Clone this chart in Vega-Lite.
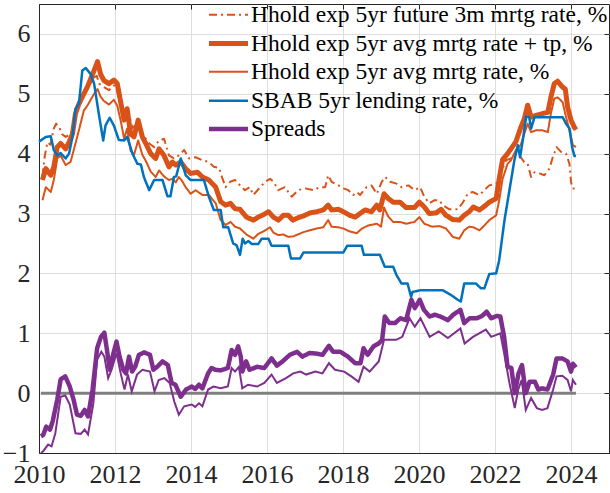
{
  "$schema": "https://vega.github.io/schema/vega-lite/v6.json",
  "width": 570,
  "height": 449,
  "autosize": "none",
  "padding": {"left": 39, "top": 4, "right": 1, "bottom": 40},
  "background": "white",
  "config": {
    "view": {"stroke": "#262626", "strokeWidth": 1},
    "axis": {
      "labelFont": "Liberation Serif",
      "labelFontSize": 26,
      "labelColor": "#262626",
      "domainColor": "#262626",
      "tickColor": "#262626",
      "gridColor": "#dedede",
      "gridWidth": 1,
      "title": null
    }
  },
  "datasets": {
    "zero": [{"t": 2010.05, "v": 0}, {"t": 2024.13, "v": 0}],
    "spread2": [
      {"t":2010.05,"v":-1.0},{"t":2010.11,"v":-0.97},{"t":2010.24,"v":-0.86},{"t":2010.33,"v":-0.89},{"t":2010.43,"v":-0.67},{"t":2010.57,"v":-0.06},{"t":2010.69,"v":-0.04},{"t":2010.81,"v":-0.19},{"t":2010.96,"v":-0.67},{"t":2011.1,"v":-0.68},{"t":2011.2,"v":-0.61},{"t":2011.29,"v":-0.69},{"t":2011.43,"v":-0.17},{"t":2011.53,"v":0.56},{"t":2011.64,"v":0.69},{"t":2011.72,"v":0.61},{"t":2011.82,"v":0.25},{"t":2011.91,"v":0.39},{"t":2012.04,"v":0.67},{"t":2012.15,"v":0.33},{"t":2012.25,"v":0.06},{"t":2012.34,"v":0.31},{"t":2012.44,"v":0.03},{"t":2012.58,"v":0.31},{"t":2012.72,"v":0.39},{"t":2012.92,"v":0.36},{"t":2013.04,"v":0.03},{"t":2013.15,"v":0.22},{"t":2013.3,"v":0.25},{"t":2013.44,"v":0.17},{"t":2013.56,"v":-0.14},{"t":2013.68,"v":-0.36},{"t":2013.82,"v":-0.22},{"t":2014.02,"v":-0.19},{"t":2014.11,"v":-0.23},{"t":2014.21,"v":-0.17},{"t":2014.3,"v":-0.22},{"t":2014.45,"v":0.06},{"t":2014.59,"v":0.11},{"t":2014.78,"v":0.08},{"t":2014.97,"v":0.11},{"t":2015.07,"v":0.42},{"t":2015.16,"v":0.36},{"t":2015.26,"v":0.44},{"t":2015.35,"v":0.08},{"t":2015.5,"v":0.14},{"t":2015.74,"v":0.11},{"t":2015.93,"v":0.17},{"t":2016.12,"v":0.31},{"t":2016.26,"v":0.17},{"t":2016.5,"v":0.25},{"t":2016.69,"v":0.33},{"t":2016.88,"v":0.36},{"t":2017.03,"v":0.31},{"t":2017.27,"v":0.36},{"t":2017.46,"v":0.33},{"t":2017.63,"v":0.5},{"t":2017.79,"v":0.39},{"t":2018.03,"v":0.36},{"t":2018.22,"v":0.28},{"t":2018.41,"v":0.19},{"t":2018.54,"v":0.44},{"t":2018.7,"v":0.36},{"t":2018.94,"v":0.53},{"t":2019.08,"v":0.89},{"t":2019.22,"v":0.89},{"t":2019.4,"v":0.89},{"t":2019.56,"v":0.94},{"t":2019.75,"v":1.25},{"t":2019.89,"v":1.11},{"t":2020.04,"v":1.25},{"t":2020.28,"v":0.94},{"t":2020.52,"v":1.03},{"t":2020.76,"v":0.92},{"t":2021.09,"v":1.08},{"t":2021.2,"v":0.83},{"t":2021.42,"v":0.94},{"t":2021.76,"v":1.06},{"t":2021.9,"v":0.94},{"t":2022.14,"v":1.0},{"t":2022.24,"v":0.67},{"t":2022.38,"v":0.17},{"t":2022.52,"v":-0.25},{"t":2022.61,"v":0.06},{"t":2022.7,"v":0.22},{"t":2022.81,"v":-0.28},{"t":2022.95,"v":-0.08},{"t":2023.1,"v":-0.25},{"t":2023.24,"v":-0.28},{"t":2023.38,"v":-0.25},{"t":2023.53,"v":0.06},{"t":2023.62,"v":0.28},{"t":2023.77,"v":0.29},{"t":2023.91,"v":0.22},{"t":2024.0,"v":0.03},{"t":2024.05,"v":0.22},{"t":2024.13,"v":0.14}
    ],
    "rates": [
      {"s":"a","t":2010.09,"v":3.62},{"s":"a","t":2010.15,"v":3.95},{"s":"a","t":2010.22,"v":4.19},{"s":"a","t":2010.3,"v":4.15},{"s":"a","t":2010.39,"v":4.42},{"s":"a","t":2010.45,"v":4.5},{"s":"a","t":2010.53,"v":4.45},{"s":"a","t":2010.6,"v":4.33},{"s":"a","t":2010.7,"v":4.28},{"s":"a","t":2010.79,"v":4.31},{"s":"a","t":2010.88,"v":4.39},{"s":"a","t":2010.96,"v":4.67},{"s":"a","t":2011.03,"v":4.8},{"s":"a","t":2011.1,"v":4.92},{"s":"a","t":2011.23,"v":5.06},{"s":"a","t":2011.36,"v":5.17},{"s":"a","t":2011.45,"v":5.28},{"s":"a","t":2011.52,"v":5.3},{"s":"a","t":2011.58,"v":5.17},{"s":"a","t":2011.71,"v":5.11},{"s":"a","t":2011.84,"v":5.06},{"s":"a","t":2011.97,"v":5.14},{"s":"a","t":2012.04,"v":5.1},{"s":"a","t":2012.1,"v":4.92},{"s":"a","t":2012.24,"v":4.64},{"s":"a","t":2012.32,"v":4.78},{"s":"a","t":2012.46,"v":4.42},{"s":"a","t":2012.59,"v":4.53},{"s":"a","t":2012.72,"v":4.33},{"s":"a","t":2012.9,"v":4.17},{"s":"a","t":2013.03,"v":4.11},{"s":"a","t":2013.16,"v":4.22},{"s":"a","t":2013.29,"v":4.25},{"s":"a","t":2013.42,"v":3.97},{"s":"a","t":2013.55,"v":3.92},{"s":"a","t":2013.68,"v":3.97},{"s":"a","t":2013.82,"v":4.06},{"s":"a","t":2013.95,"v":3.92},{"s":"a","t":2014.12,"v":3.94},{"s":"a","t":2014.3,"v":3.89},{"s":"a","t":2014.47,"v":3.86},{"s":"a","t":2014.6,"v":3.78},{"s":"a","t":2014.74,"v":3.76},{"s":"a","t":2014.82,"v":3.6},{"s":"a","t":2014.91,"v":3.44},{"s":"a","t":2015.03,"v":3.53},{"s":"a","t":2015.16,"v":3.56},{"s":"a","t":2015.29,"v":3.47},{"s":"a","t":2015.42,"v":3.39},{"s":"a","t":2015.55,"v":3.44},{"s":"a","t":2015.64,"v":3.31},{"s":"a","t":2015.82,"v":3.44},{"s":"a","t":2015.95,"v":3.53},{"s":"a","t":2016.08,"v":3.58},{"s":"a","t":2016.17,"v":3.53},{"s":"a","t":2016.3,"v":3.39},{"s":"a","t":2016.47,"v":3.44},{"s":"a","t":2016.65,"v":3.28},{"s":"a","t":2016.82,"v":3.39},{"s":"a","t":2017.0,"v":3.42},{"s":"a","t":2017.22,"v":3.39},{"s":"a","t":2017.39,"v":3.44},{"s":"a","t":2017.53,"v":3.44},{"s":"a","t":2017.61,"v":3.64},{"s":"a","t":2017.7,"v":3.53},{"s":"a","t":2017.88,"v":3.47},{"s":"a","t":2018.01,"v":3.42},{"s":"a","t":2018.14,"v":3.39},{"s":"a","t":2018.27,"v":3.31},{"s":"a","t":2018.36,"v":3.36},{"s":"a","t":2018.45,"v":3.31},{"s":"a","t":2018.62,"v":3.44},{"s":"a","t":2018.75,"v":3.47},{"s":"a","t":2018.89,"v":3.33},{"s":"a","t":2019.02,"v":3.53},{"s":"a","t":2019.11,"v":3.61},{"s":"a","t":2019.24,"v":3.53},{"s":"a","t":2019.41,"v":3.5},{"s":"a","t":2019.54,"v":3.44},{"s":"a","t":2019.72,"v":3.47},{"s":"a","t":2019.89,"v":3.39},{"s":"a","t":2020.03,"v":3.44},{"s":"a","t":2020.14,"v":3.28},{"s":"a","t":2020.27,"v":3.17},{"s":"a","t":2020.4,"v":3.22},{"s":"a","t":2020.54,"v":3.22},{"s":"a","t":2020.62,"v":3.14},{"s":"a","t":2020.8,"v":3.07},{"s":"a","t":2021.02,"v":3.07},{"s":"a","t":2021.15,"v":3.18},{"s":"a","t":2021.28,"v":3.33},{"s":"a","t":2021.41,"v":3.36},{"s":"a","t":2021.59,"v":3.31},{"s":"a","t":2021.72,"v":3.39},{"s":"a","t":2021.85,"v":3.47},{"s":"a","t":2022.03,"v":3.5},{"s":"a","t":2022.16,"v":3.69},{"s":"a","t":2022.29,"v":3.89},{"s":"a","t":2022.42,"v":3.92},{"s":"a","t":2022.55,"v":4.0},{"s":"a","t":2022.68,"v":3.94},{"s":"a","t":2022.77,"v":3.86},{"s":"a","t":2022.86,"v":3.83},{"s":"a","t":2022.95,"v":3.61},{"s":"a","t":2023.04,"v":3.69},{"s":"a","t":2023.17,"v":3.67},{"s":"a","t":2023.3,"v":3.64},{"s":"a","t":2023.43,"v":3.75},{"s":"a","t":2023.52,"v":3.94},{"s":"a","t":2023.62,"v":4.11},{"s":"a","t":2023.74,"v":4.03},{"s":"a","t":2023.87,"v":4.0},{"s":"a","t":2023.96,"v":3.83},{"s":"a","t":2024.0,"v":3.53},{"s":"a","t":2024.04,"v":3.42},{"s":"a","t":2024.13,"v":3.42},
      {"s":"b","t":2010.09,"v":3.56},{"s":"b","t":2010.18,"v":3.75},{"s":"b","t":2010.31,"v":3.64},{"s":"b","t":2010.39,"v":3.78},{"s":"b","t":2010.48,"v":4.11},{"s":"b","t":2010.57,"v":4.17},{"s":"b","t":2010.7,"v":4.08},{"s":"b","t":2010.79,"v":4.19},{"s":"b","t":2010.88,"v":4.33},{"s":"b","t":2010.96,"v":4.67},{"s":"b","t":2011.05,"v":4.83},{"s":"b","t":2011.18,"v":5.0},{"s":"b","t":2011.27,"v":5.11},{"s":"b","t":2011.36,"v":5.25},{"s":"b","t":2011.45,"v":5.39},{"s":"b","t":2011.54,"v":5.54},{"s":"b","t":2011.62,"v":5.33},{"s":"b","t":2011.71,"v":5.22},{"s":"b","t":2011.84,"v":5.17},{"s":"b","t":2011.97,"v":5.23},{"s":"b","t":2012.06,"v":5.17},{"s":"b","t":2012.15,"v":4.86},{"s":"b","t":2012.24,"v":4.56},{"s":"b","t":2012.32,"v":4.75},{"s":"b","t":2012.41,"v":4.33},{"s":"b","t":2012.5,"v":4.28},{"s":"b","t":2012.61,"v":4.56},{"s":"b","t":2012.72,"v":4.28},{"s":"b","t":2012.81,"v":4.17},{"s":"b","t":2012.94,"v":4.0},{"s":"b","t":2013.07,"v":3.92},{"s":"b","t":2013.16,"v":4.08},{"s":"b","t":2013.29,"v":3.97},{"s":"b","t":2013.42,"v":3.78},{"s":"b","t":2013.51,"v":3.86},{"s":"b","t":2013.6,"v":3.81},{"s":"b","t":2013.73,"v":3.86},{"s":"b","t":2013.86,"v":3.75},{"s":"b","t":2013.99,"v":3.67},{"s":"b","t":2014.17,"v":3.69},{"s":"b","t":2014.3,"v":3.61},{"s":"b","t":2014.47,"v":3.56},{"s":"b","t":2014.65,"v":3.44},{"s":"b","t":2014.78,"v":3.2},{"s":"b","t":2014.91,"v":3.14},{"s":"b","t":2015.04,"v":3.17},{"s":"b","t":2015.16,"v":3.08},{"s":"b","t":2015.29,"v":3.07},{"s":"b","t":2015.46,"v":2.94},{"s":"b","t":2015.64,"v":2.89},{"s":"b","t":2015.77,"v":2.94},{"s":"b","t":2015.9,"v":2.98},{"s":"b","t":2016.04,"v":3.03},{"s":"b","t":2016.17,"v":2.94},{"s":"b","t":2016.3,"v":2.89},{"s":"b","t":2016.43,"v":2.97},{"s":"b","t":2016.56,"v":2.97},{"s":"b","t":2016.68,"v":2.89},{"s":"b","t":2016.82,"v":2.93},{"s":"b","t":2017.0,"v":2.97},{"s":"b","t":2017.13,"v":3.01},{"s":"b","t":2017.31,"v":3.03},{"s":"b","t":2017.48,"v":3.06},{"s":"b","t":2017.61,"v":3.14},{"s":"b","t":2017.7,"v":3.06},{"s":"b","t":2017.88,"v":3.07},{"s":"b","t":2018.01,"v":3.03},{"s":"b","t":2018.18,"v":2.97},{"s":"b","t":2018.32,"v":2.94},{"s":"b","t":2018.45,"v":3.0},{"s":"b","t":2018.58,"v":3.06},{"s":"b","t":2018.75,"v":3.03},{"s":"b","t":2018.89,"v":3.14},{"s":"b","t":2018.97,"v":3.06},{"s":"b","t":2019.08,"v":3.33},{"s":"b","t":2019.19,"v":3.25},{"s":"b","t":2019.32,"v":3.19},{"s":"b","t":2019.5,"v":3.19},{"s":"b","t":2019.66,"v":3.1},{"s":"b","t":2019.88,"v":3.1},{"s":"b","t":2020.01,"v":3.19},{"s":"b","t":2020.14,"v":3.11},{"s":"b","t":2020.27,"v":3.0},{"s":"b","t":2020.45,"v":3.01},{"s":"b","t":2020.58,"v":3.07},{"s":"b","t":2020.71,"v":2.97},{"s":"b","t":2020.89,"v":2.9},{"s":"b","t":2021.06,"v":2.89},{"s":"b","t":2021.19,"v":2.97},{"s":"b","t":2021.32,"v":3.03},{"s":"b","t":2021.43,"v":3.11},{"s":"b","t":2021.59,"v":3.06},{"s":"b","t":2021.72,"v":3.12},{"s":"b","t":2021.85,"v":3.19},{"s":"b","t":2022.03,"v":3.25},{"s":"b","t":2022.11,"v":3.58},{"s":"b","t":2022.2,"v":3.9},{"s":"b","t":2022.33,"v":4.0},{"s":"b","t":2022.42,"v":4.08},{"s":"b","t":2022.55,"v":4.2},{"s":"b","t":2022.68,"v":4.44},{"s":"b","t":2022.77,"v":4.58},{"s":"b","t":2022.86,"v":4.81},{"s":"b","t":2022.95,"v":4.61},{"s":"b","t":2023.08,"v":4.64},{"s":"b","t":2023.25,"v":4.67},{"s":"b","t":2023.39,"v":4.69},{"s":"b","t":2023.47,"v":4.94},{"s":"b","t":2023.56,"v":5.17},{"s":"b","t":2023.65,"v":5.21},{"s":"b","t":2023.78,"v":5.11},{"s":"b","t":2023.85,"v":5.08},{"s":"b","t":2023.91,"v":4.78},{"s":"b","t":2024.0,"v":4.56},{"s":"b","t":2024.09,"v":4.44},{"s":"b","t":2024.13,"v":4.4},
      {"s":"c","t":2010.09,"v":3.22},{"s":"c","t":2010.18,"v":3.44},{"s":"c","t":2010.31,"v":3.36},{"s":"c","t":2010.39,"v":3.56},{"s":"c","t":2010.48,"v":3.92},{"s":"c","t":2010.57,"v":3.97},{"s":"c","t":2010.7,"v":3.81},{"s":"c","t":2010.83,"v":3.86},{"s":"c","t":2010.96,"v":4.17},{"s":"c","t":2011.05,"v":4.39},{"s":"c","t":2011.18,"v":4.72},{"s":"c","t":2011.27,"v":4.8},{"s":"c","t":2011.36,"v":4.9},{"s":"c","t":2011.45,"v":5.0},{"s":"c","t":2011.54,"v":5.08},{"s":"c","t":2011.62,"v":4.95},{"s":"c","t":2011.71,"v":4.88},{"s":"c","t":2011.84,"v":4.82},{"s":"c","t":2011.97,"v":4.9},{"s":"c","t":2012.06,"v":4.8},{"s":"c","t":2012.15,"v":4.55},{"s":"c","t":2012.24,"v":4.25},{"s":"c","t":2012.32,"v":4.42},{"s":"c","t":2012.41,"v":4.05},{"s":"c","t":2012.5,"v":3.98},{"s":"c","t":2012.61,"v":4.22},{"s":"c","t":2012.72,"v":3.98},{"s":"c","t":2012.81,"v":3.88},{"s":"c","t":2012.94,"v":3.7},{"s":"c","t":2013.07,"v":3.61},{"s":"c","t":2013.16,"v":3.72},{"s":"c","t":2013.29,"v":3.62},{"s":"c","t":2013.42,"v":3.56},{"s":"c","t":2013.51,"v":3.58},{"s":"c","t":2013.6,"v":3.52},{"s":"c","t":2013.68,"v":3.61},{"s":"c","t":2013.75,"v":3.56},{"s":"c","t":2013.86,"v":3.44},{"s":"c","t":2013.99,"v":3.33},{"s":"c","t":2014.12,"v":3.39},{"s":"c","t":2014.3,"v":3.31},{"s":"c","t":2014.47,"v":3.31},{"s":"c","t":2014.65,"v":3.17},{"s":"c","t":2014.78,"v":2.89},{"s":"c","t":2014.91,"v":2.81},{"s":"c","t":2015.04,"v":2.86},{"s":"c","t":2015.16,"v":2.78},{"s":"c","t":2015.29,"v":2.75},{"s":"c","t":2015.46,"v":2.65},{"s":"c","t":2015.64,"v":2.58},{"s":"c","t":2015.77,"v":2.66},{"s":"c","t":2015.9,"v":2.7},{"s":"c","t":2016.08,"v":2.77},{"s":"c","t":2016.17,"v":2.68},{"s":"c","t":2016.3,"v":2.64},{"s":"c","t":2016.43,"v":2.65},{"s":"c","t":2016.56,"v":2.61},{"s":"c","t":2016.7,"v":2.62},{"s":"c","t":2016.96,"v":2.69},{"s":"c","t":2017.13,"v":2.72},{"s":"c","t":2017.31,"v":2.75},{"s":"c","t":2017.48,"v":2.77},{"s":"c","t":2017.61,"v":2.89},{"s":"c","t":2017.7,"v":2.78},{"s":"c","t":2017.88,"v":2.77},{"s":"c","t":2018.01,"v":2.75},{"s":"c","t":2018.18,"v":2.7},{"s":"c","t":2018.36,"v":2.67},{"s":"c","t":2018.5,"v":2.75},{"s":"c","t":2018.66,"v":2.8},{"s":"c","t":2018.89,"v":2.83},{"s":"c","t":2019.0,"v":2.78},{"s":"c","t":2019.08,"v":3.1},{"s":"c","t":2019.19,"v":2.95},{"s":"c","t":2019.32,"v":2.86},{"s":"c","t":2019.5,"v":2.86},{"s":"c","t":2019.66,"v":2.83},{"s":"c","t":2019.88,"v":2.86},{"s":"c","t":2020.01,"v":2.94},{"s":"c","t":2020.14,"v":2.83},{"s":"c","t":2020.35,"v":2.78},{"s":"c","t":2020.54,"v":2.79},{"s":"c","t":2020.71,"v":2.75},{"s":"c","t":2020.89,"v":2.61},{"s":"c","t":2021.06,"v":2.58},{"s":"c","t":2021.19,"v":2.72},{"s":"c","t":2021.32,"v":2.78},{"s":"c","t":2021.43,"v":2.77},{"s":"c","t":2021.59,"v":2.72},{"s":"c","t":2021.72,"v":2.8},{"s":"c","t":2021.85,"v":2.89},{"s":"c","t":2022.03,"v":2.97},{"s":"c","t":2022.11,"v":3.22},{"s":"c","t":2022.2,"v":3.58},{"s":"c","t":2022.33,"v":3.83},{"s":"c","t":2022.42,"v":3.89},{"s":"c","t":2022.55,"v":4.06},{"s":"c","t":2022.68,"v":4.15},{"s":"c","t":2022.77,"v":4.33},{"s":"c","t":2022.86,"v":4.5},{"s":"c","t":2022.95,"v":4.36},{"s":"c","t":2023.08,"v":4.39},{"s":"c","t":2023.25,"v":4.39},{"s":"c","t":2023.39,"v":4.36},{"s":"c","t":2023.47,"v":4.67},{"s":"c","t":2023.56,"v":4.92},{"s":"c","t":2023.65,"v":4.94},{"s":"c","t":2023.78,"v":4.86},{"s":"c","t":2023.87,"v":4.61},{"s":"c","t":2023.96,"v":4.39},{"s":"c","t":2024.05,"v":4.14},{"s":"c","t":2024.13,"v":4.11},
      {"s":"d","t":2010.0,"v":4.2},{"s":"d","t":2010.18,"v":4.28},{"s":"d","t":2010.31,"v":4.29},{"s":"d","t":2010.39,"v":4.06},{"s":"d","t":2010.48,"v":3.97},{"s":"d","t":2010.57,"v":4.01},{"s":"d","t":2010.7,"v":3.92},{"s":"d","t":2010.79,"v":4.0},{"s":"d","t":2010.88,"v":4.28},{"s":"d","t":2010.96,"v":4.75},{"s":"d","t":2011.05,"v":4.83},{"s":"d","t":2011.14,"v":5.39},{"s":"d","t":2011.23,"v":5.43},{"s":"d","t":2011.36,"v":5.33},{"s":"d","t":2011.45,"v":5.17},{"s":"d","t":2011.58,"v":4.64},{"s":"d","t":2011.69,"v":4.22},{"s":"d","t":2011.75,"v":4.47},{"s":"d","t":2011.86,"v":4.6},{"s":"d","t":2011.97,"v":4.47},{"s":"d","t":2012.1,"v":4.23},{"s":"d","t":2012.24,"v":4.22},{"s":"d","t":2012.32,"v":4.28},{"s":"d","t":2012.46,"v":4.0},{"s":"d","t":2012.59,"v":3.83},{"s":"d","t":2012.68,"v":3.82},{"s":"d","t":2012.76,"v":3.61},{"s":"d","t":2012.9,"v":3.39},{"s":"d","t":2013.03,"v":3.56},{"s":"d","t":2013.25,"v":3.56},{"s":"d","t":2013.38,"v":3.29},{"s":"d","t":2013.46,"v":3.29},{"s":"d","t":2013.55,"v":3.61},{"s":"d","t":2013.61,"v":3.62},{"s":"d","t":2013.73,"v":3.92},{"s":"d","t":2013.86,"v":3.64},{"s":"d","t":2013.99,"v":3.56},{"s":"d","t":2014.34,"v":3.56},{"s":"d","t":2014.47,"v":3.28},{"s":"d","t":2014.6,"v":3.06},{"s":"d","t":2014.78,"v":3.06},{"s":"d","t":2014.85,"v":2.77},{"s":"d","t":2014.98,"v":2.77},{"s":"d","t":2015.11,"v":2.5},{"s":"d","t":2015.2,"v":2.47},{"s":"d","t":2015.29,"v":2.31},{"s":"d","t":2015.36,"v":2.58},{"s":"d","t":2015.42,"v":2.5},{"s":"d","t":2015.51,"v":2.54},{"s":"d","t":2015.6,"v":2.49},{"s":"d","t":2015.77,"v":2.49},{"s":"d","t":2015.86,"v":2.58},{"s":"d","t":2016.04,"v":2.58},{"s":"d","t":2016.12,"v":2.46},{"s":"d","t":2016.56,"v":2.46},{"s":"d","t":2016.63,"v":2.25},{"s":"d","t":2016.87,"v":2.25},{"s":"d","t":2016.96,"v":2.35},{"s":"d","t":2018.01,"v":2.35},{"s":"d","t":2018.11,"v":2.46},{"s":"d","t":2018.49,"v":2.46},{"s":"d","t":2018.55,"v":2.31},{"s":"d","t":2018.97,"v":2.31},{"s":"d","t":2019.1,"v":2.11},{"s":"d","t":2019.32,"v":2.11},{"s":"d","t":2019.41,"v":1.97},{"s":"d","t":2019.54,"v":1.83},{"s":"d","t":2019.7,"v":1.83},{"s":"d","t":2019.79,"v":1.61},{"s":"d","t":2019.83,"v":1.69},{"s":"d","t":2020.05,"v":1.72},{"s":"d","t":2020.62,"v":1.72},{"s":"d","t":2020.84,"v":1.64},{"s":"d","t":2021.02,"v":1.56},{"s":"d","t":2021.1,"v":1.53},{"s":"d","t":2021.19,"v":1.83},{"s":"d","t":2021.5,"v":1.83},{"s":"d","t":2021.63,"v":1.75},{"s":"d","t":2021.72,"v":1.75},{"s":"d","t":2021.85,"v":1.99},{"s":"d","t":2022.03,"v":2.0},{"s":"d","t":2022.11,"v":2.22},{"s":"d","t":2022.25,"v":2.89},{"s":"d","t":2022.38,"v":3.39},{"s":"d","t":2022.51,"v":3.89},{"s":"d","t":2022.6,"v":4.14},{"s":"d","t":2022.66,"v":3.94},{"s":"d","t":2022.73,"v":4.22},{"s":"d","t":2022.82,"v":4.62},{"s":"d","t":2022.9,"v":4.61},{"s":"d","t":2022.95,"v":4.42},{"s":"d","t":2023.04,"v":4.61},{"s":"d","t":2023.78,"v":4.61},{"s":"d","t":2023.87,"v":4.5},{"s":"d","t":2023.96,"v":4.42},{"s":"d","t":2024.03,"v":4.11},{"s":"d","t":2024.09,"v":3.96},{"s":"d","t":2024.13,"v":3.96},
      {"s":"e","t":2010.05,"v":-0.72},{"s":"e","t":2010.11,"v":-0.7},{"s":"e","t":2010.19,"v":-0.56},{"s":"e","t":2010.29,"v":-0.61},{"s":"e","t":2010.36,"v":-0.47},{"s":"e","t":2010.48,"v":-0.11},{"s":"e","t":2010.57,"v":0.23},{"s":"e","t":2010.69,"v":0.28},{"s":"e","t":2010.81,"v":0.11},{"s":"e","t":2010.91,"v":-0.11},{"s":"e","t":2011.0,"v":-0.36},{"s":"e","t":2011.1,"v":-0.38},{"s":"e","t":2011.2,"v":-0.28},{"s":"e","t":2011.29,"v":-0.39},{"s":"e","t":2011.41,"v":0.06},{"s":"e","t":2011.53,"v":0.75},{"s":"e","t":2011.63,"v":0.94},{"s":"e","t":2011.72,"v":1.01},{"s":"e","t":2011.8,"v":0.67},{"s":"e","t":2011.86,"v":0.39},{"s":"e","t":2011.96,"v":0.67},{"s":"e","t":2012.04,"v":0.86},{"s":"e","t":2012.12,"v":0.61},{"s":"e","t":2012.22,"v":0.39},{"s":"e","t":2012.29,"v":0.33},{"s":"e","t":2012.37,"v":0.61},{"s":"e","t":2012.45,"v":0.36},{"s":"e","t":2012.53,"v":0.44},{"s":"e","t":2012.63,"v":0.64},{"s":"e","t":2012.77,"v":0.68},{"s":"e","t":2012.92,"v":0.64},{"s":"e","t":2013.01,"v":0.39},{"s":"e","t":2013.11,"v":0.44},{"s":"e","t":2013.25,"v":0.53},{"s":"e","t":2013.39,"v":0.47},{"s":"e","t":2013.49,"v":0.17},{"s":"e","t":2013.59,"v":0.14},{"s":"e","t":2013.73,"v":-0.06},{"s":"e","t":2013.87,"v":0.06},{"s":"e","t":2014.02,"v":0.11},{"s":"e","t":2014.11,"v":0.07},{"s":"e","t":2014.21,"v":0.14},{"s":"e","t":2014.3,"v":0.08},{"s":"e","t":2014.45,"v":0.33},{"s":"e","t":2014.54,"v":0.42},{"s":"e","t":2014.64,"v":0.39},{"s":"e","t":2014.78,"v":0.38},{"s":"e","t":2014.97,"v":0.42},{"s":"e","t":2015.07,"v":0.72},{"s":"e","t":2015.16,"v":0.64},{"s":"e","t":2015.24,"v":0.78},{"s":"e","t":2015.31,"v":0.61},{"s":"e","t":2015.35,"v":0.36},{"s":"e","t":2015.45,"v":0.53},{"s":"e","t":2015.54,"v":0.39},{"s":"e","t":2015.74,"v":0.44},{"s":"e","t":2015.93,"v":0.42},{"s":"e","t":2016.12,"v":0.58},{"s":"e","t":2016.26,"v":0.46},{"s":"e","t":2016.41,"v":0.53},{"s":"e","t":2016.6,"v":0.64},{"s":"e","t":2016.79,"v":0.69},{"s":"e","t":2016.93,"v":0.61},{"s":"e","t":2017.12,"v":0.67},{"s":"e","t":2017.31,"v":0.66},{"s":"e","t":2017.46,"v":0.64},{"s":"e","t":2017.63,"v":0.79},{"s":"e","t":2017.74,"v":0.69},{"s":"e","t":2017.93,"v":0.69},{"s":"e","t":2018.13,"v":0.61},{"s":"e","t":2018.32,"v":0.5},{"s":"e","t":2018.46,"v":0.5},{"s":"e","t":2018.54,"v":0.75},{"s":"e","t":2018.65,"v":0.64},{"s":"e","t":2018.8,"v":0.78},{"s":"e","t":2018.94,"v":0.83},{"s":"e","t":2019.03,"v":0.89},{"s":"e","t":2019.1,"v":1.28},{"s":"e","t":2019.22,"v":1.17},{"s":"e","t":2019.37,"v":1.17},{"s":"e","t":2019.51,"v":1.25},{"s":"e","t":2019.66,"v":1.22},{"s":"e","t":2019.8,"v":1.56},{"s":"e","t":2019.89,"v":1.42},{"s":"e","t":2020.02,"v":1.56},{"s":"e","t":2020.13,"v":1.39},{"s":"e","t":2020.28,"v":1.28},{"s":"e","t":2020.42,"v":1.31},{"s":"e","t":2020.56,"v":1.28},{"s":"e","t":2020.76,"v":1.22},{"s":"e","t":2020.9,"v":1.31},{"s":"e","t":2021.09,"v":1.39},{"s":"e","t":2021.19,"v":1.17},{"s":"e","t":2021.33,"v":1.25},{"s":"e","t":2021.52,"v":1.25},{"s":"e","t":2021.66,"v":1.29},{"s":"e","t":2021.78,"v":1.36},{"s":"e","t":2021.9,"v":1.25},{"s":"e","t":2022.05,"v":1.29},{"s":"e","t":2022.14,"v":1.28},{"s":"e","t":2022.24,"v":0.94},{"s":"e","t":2022.33,"v":0.44},{"s":"e","t":2022.43,"v":0.42},{"s":"e","t":2022.52,"v":0.0},{"s":"e","t":2022.62,"v":0.33},{"s":"e","t":2022.71,"v":0.47},{"s":"e","t":2022.81,"v":0.0},{"s":"e","t":2022.91,"v":0.19},{"s":"e","t":2023.05,"v":0.19},{"s":"e","t":2023.14,"v":0.06},{"s":"e","t":2023.24,"v":0.08},{"s":"e","t":2023.38,"v":0.06},{"s":"e","t":2023.53,"v":0.31},{"s":"e","t":2023.62,"v":0.58},{"s":"e","t":2023.77,"v":0.58},{"s":"e","t":2023.91,"v":0.53},{"s":"e","t":2024.0,"v":0.36},{"s":"e","t":2024.05,"v":0.49},{"s":"e","t":2024.13,"v":0.43}
    ]
  },
  "layer": [
    {
      "data": {"name": "zero"},
      "mark": {"type": "line", "color": "#808080", "strokeWidth": 3},
      "encoding": {
        "x": {"field": "t", "type": "quantitative", "scale": {"domain": [2010, 2025], "nice": false, "zero": false},
              "axis": {"orient": "top", "labels": false, "grid": false, "domain": false, "tickSize": 5, "values": [2010,2012,2014,2016,2018,2020,2022,2024], "offset": -5}},
        "y": {"field": "v", "type": "quantitative", "scale": {"domain": [-1, 6.5], "nice": false, "zero": false},
              "axis": {"orient": "right", "labels": false, "grid": false, "domain": false, "tickSize": 5, "values": [-1,0,1,2,3,4,5,6], "offset": -5}}
      }
    },
    {
      "data": {"name": "spread2"},
      "mark": {"type": "line", "color": "#7E2F8E", "strokeWidth": 2},
      "encoding": {
        "x": {"field": "t", "type": "quantitative", "axis": null},
        "y": {"field": "v", "type": "quantitative", "axis": null}
      }
    },
    {
      "data": {"name": "rates"},
      "mark": {"type": "line", "strokeJoin": "round"},
      "encoding": {
        "x": {"field": "t", "type": "quantitative",
              "axis": {"orient": "bottom", "values": [2010,2012,2014,2016,2018,2020,2022,2024], "format": "d", "grid": true, "tickSize": 0, "labelPadding": 8, "labelFlush": false}},
        "y": {"field": "v", "type": "quantitative",
              "axis": {"orient": "left", "values": [-1,0,1,2,3,4,5,6], "format": "d", "grid": true, "tickSize": 0, "labelPadding": 9}},
        "color": {"field": "s", "type": "nominal",
          "scale": {"domain": ["a","b","c","d","e"], "range": ["#D95319","#D95319","#D95319","#0072BD","#7E2F8E"]},
          "legend": {
            "title": null, "orient": "none", "legendX": 177, "legendY": -1, "padding": 0,
            "symbolType": "M-2,0H2", "symbolSize": 380, "labelFont": "Liberation Serif", "labelFontSize": 23.5,
            "labelColor": "#000000", "labelOffset": 10, "rowPadding": 4, "labelLimit": 500,
            "labelExpr": "datum.label == 'a' ? 'Hhold exp 5yr future 3m mrtg rate, %' : datum.label == 'b' ? 'Hhold exp 5yr avg mrtg rate + tp, %' : datum.label == 'c' ? 'Hhold exp 5yr avg mrtg rate, %' : datum.label == 'd' ? 'SBAB 5yr lending rate, %' : 'Spreads'"
          }},
        "strokeDash": {"field": "s", "type": "nominal",
          "scale": {"domain": ["a","b","c","d","e"], "range": [[8,4,2,4],[1,0],[1,0],[1,0],[1,0]]}},
        "strokeWidth": {"field": "s", "type": "nominal",
          "scale": {"type": "ordinal", "domain": ["a","b","c","d","e"], "range": [2,5,2,2.5,4.5]}}
      }
    }
  ],
  "resolve": {"axis": {"x": "independent", "y": "independent"}}
}
